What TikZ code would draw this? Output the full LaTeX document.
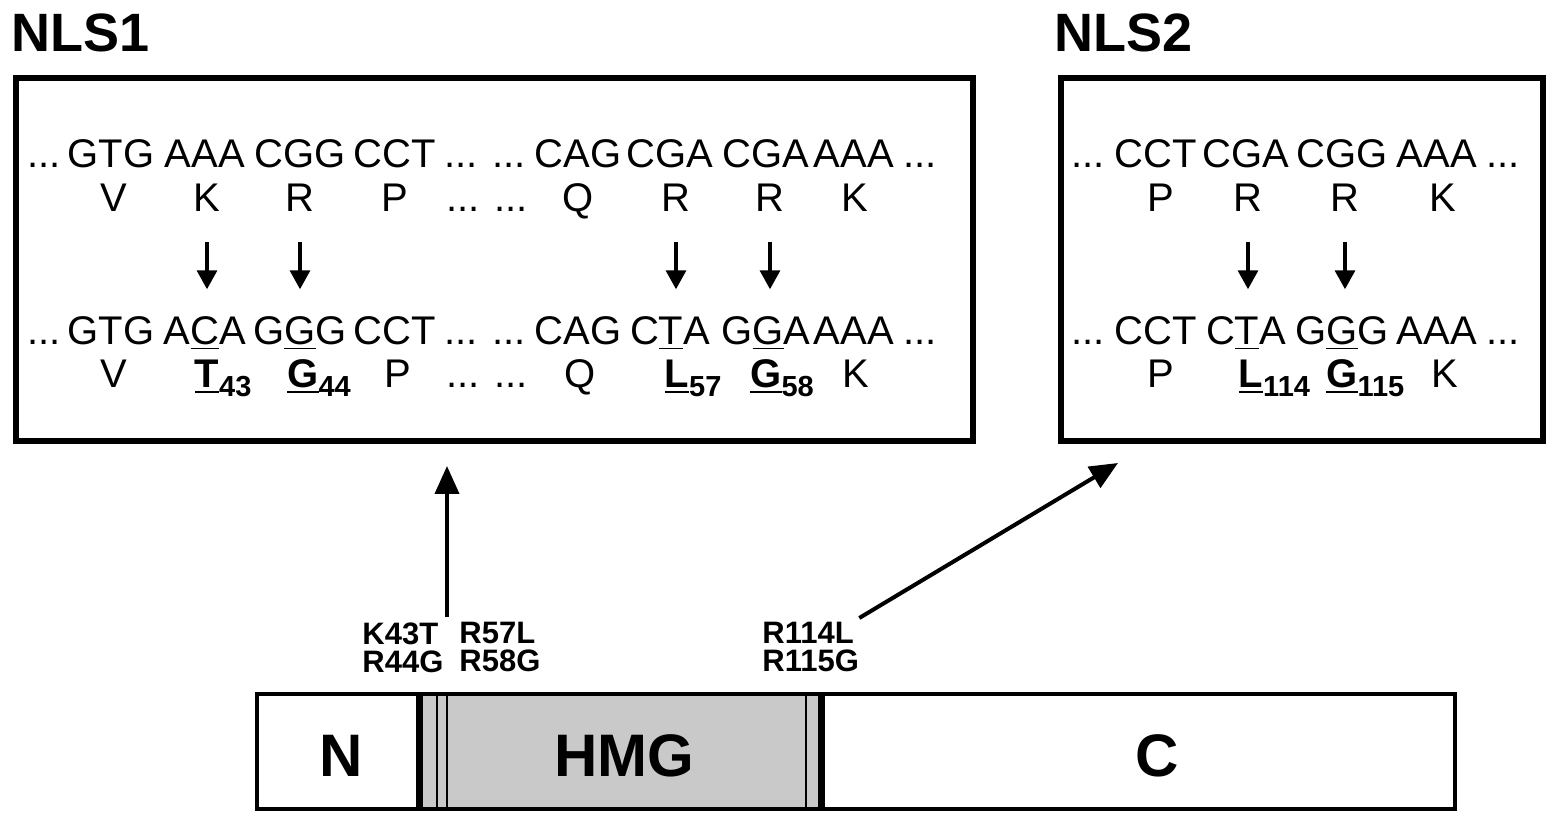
\documentclass[tikz,border=0pt]{standalone}
\usepackage{fontspec}
\setmainfont{Liberation Sans}
\usetikzlibrary{arrows.meta}
\definecolor{hmggray}{gray}{0.79}
\newcommand{\mutul}[1]{\setbox0\hbox{#1}\rlap{\rule[-2.2pt]{\wd0}{0.9pt}}\box0}
\newcommand{\mutaa}[2]{\setbox0\hbox{\bfseries #1}\rlap{\rule[-2.6pt]{\wd0}{1pt}}\box0\rlap{\raisebox{-4.3pt}{\fontsize{14.5}{14.5}\selectfont\bfseries #2}}}
\tikzset{
	seq/.style={anchor=base, inner sep=0pt, font=\fontsize{20}{24}\selectfont},
	title/.style={anchor=base west, inner sep=0pt, font=\fontsize{27}{30}\selectfont\bfseries},
	seqbox/.style={draw, line width=3pt, minimum height=181.5pt, inner sep=0pt},
	mutarrow/.style={-{Triangle[length=9.5pt,width=10pt]}, line width=1.7pt, shorten <=15pt, shorten >=13.7pt},
	bigarrow/.style={-{Triangle[length=14pt,width=12pt]}, line width=2pt},
	sitelabel/.style={anchor=north west, align=left, inner sep=0pt, font=\fontsize{15.5}{14}\selectfont\bfseries},
	domlabel/.style={anchor=base, inner sep=0pt, font=\fontsize{30}{34}\selectfont\bfseries},
	barline/.style={line width=2pt},
	hmgedge/.style={line width=3.5pt},
	hmgline/.style={line width=0.75pt}
}
\begin{document}
\begin{tikzpicture}[x=0.5pt, y=-0.5pt]
			\useasboundingbox (0,0) rectangle (1559,823);
			%%%%% BOXES %%%%%
			\node[title] (t1) at (11,52) {NLS1};
			\node[title] (t2) at (1054,52) {NLS2};
			\node[seqbox, minimum width=478.5pt] (nls1) at (494.5,259.5) {};
			\node[seqbox, minimum width=241pt] (nls2) at (1302,259.5) {};
			
			%%%%% NLS1 WILD TYPE %%%%%
			\node[seq] (w1c1) at (44,168) {...};
			\node[seq] (w1c2) at (111,168) {GTG};
			\node[seq] (w1c3) at (205,168) {AAA};
			\node[seq] (w1c4) at (300,168) {CGG};
			\node[seq] (w1c5) at (395,168) {CCT};
			\node[seq] (w1c6) at (485,168) {... ...};
			\node[seq] (w1c7) at (578,168) {CAG};
			\node[seq] (w1c8) at (670,168) {CGA};
			\node[seq] (w1c9) at (766,168) {CGA};
			\node[seq] (w1c10) at (854,168) {AAA};
			\node[seq] (w1c11) at (920,168) {...};
			\node[seq] (w1a1) at (114,212) {V};
			\node[seq] (w1a2) at (207,212) {K};
			\node[seq] (w1a3) at (300,212) {R};
			\node[seq] (w1a4) at (395,212) {P};
			\node[seq] (w1a5) at (487,212) {... ...};
			\node[seq] (w1a6) at (578,212) {Q};
			\node[seq] (w1a7) at (676,212) {R};
			\node[seq] (w1a8) at (770,212) {R};
			\node[seq] (w1a9) at (855,212) {K};
			
			%%%%% NLS1 MUTANT %%%%%
			\node[seq] (m1c1) at (44,345) {...};
			\node[seq] (m1c2) at (111,345) {GTG};
			\node[seq] (m1c3) at (205,345) {A\mutul{C}A};
			\node[seq] (m1c4) at (300,345) {G\mutul{G}G};
			\node[seq] (m1c5) at (395,345) {CCT};
			\node[seq] (m1c6) at (485,345) {... ...};
			\node[seq] (m1c7) at (578,345) {CAG};
			\node[seq] (m1c8) at (670,345) {C\mutul{T}A};
			\node[seq] (m1c9) at (766,345) {G\mutul{G}A};
			\node[seq] (m1c10) at (854,345) {AAA};
			\node[seq] (m1c11) at (920,345) {...};
			\node[seq] (m1a1) at (114,388) {V};
			\node[seq] (m1a2) at (207,388) {\mutaa{T}{43}};
			\node[seq] (m1a3) at (303,388) {\mutaa{G}{44}};
			\node[seq] (m1a4) at (398,388) {P};
			\node[seq] (m1a5) at (487,388) {... ...};
			\node[seq] (m1a6) at (580,388) {Q};
			\node[seq] (m1a7) at (677,388) {\mutaa{L}{57}};
			\node[seq] (m1a8) at (766,388) {\mutaa{G}{58}};
			\node[seq] (m1a9) at (856,388) {K};
			
			\draw[mutarrow] (w1a2.south) -- (w1a2.south |- m1c3.north);
			\draw[mutarrow] (w1a3.south) -- (w1a3.south |- m1c4.north);
			\draw[mutarrow] (w1a7.south) -- (w1a7.south |- m1c8.north);
			\draw[mutarrow] (w1a8.south) -- (w1a8.south |- m1c9.north);
			
			%%%%% NLS2 %%%%%
			\node[seq] (w2c1) at (1088,168) {...};
			\node[seq] (w2c2) at (1156,168) {CCT};
			\node[seq] (w2c3) at (1246,168) {CGA};
			\node[seq] (w2c4) at (1342,168) {CGG};
			\node[seq] (w2c5) at (1437,168) {AAA};
			\node[seq] (w2c6) at (1503,168) {...};
			\node[seq] (w2a1) at (1161,212) {P};
			\node[seq] (w2a2) at (1248,212) {R};
			\node[seq] (w2a3) at (1345,212) {R};
			\node[seq] (w2a4) at (1443,212) {K};
			
			\node[seq] (m2c1) at (1088,345) {...};
			\node[seq] (m2c2) at (1156,345) {CCT};
			\node[seq] (m2c3) at (1246,345) {C\mutul{T}A};
			\node[seq] (m2c4) at (1342,345) {G\mutul{G}G};
			\node[seq] (m2c5) at (1437,345) {AAA};
			\node[seq] (m2c6) at (1503,345) {...};
			\node[seq] (m2a1) at (1161,388) {P};
			\node[seq] (m2a2) at (1251,388) {\mutaa{L}{114}};
			\node[seq] (m2a3) at (1342,388) {\mutaa{G}{115}};
			\node[seq] (m2a4) at (1445,388) {K};
			
			\draw[mutarrow] (w2a2.south) -- (w2a2.south |- m2c3.north);
			\draw[mutarrow] (w2a3.south) -- (w2a3.south |- m2c4.north);
			
			%%%%% PROTEIN BAR %%%%%
			\fill[hmggray] (419,694) rectangle (821,809);
			\draw[hmgline] (437,694) -- (437,809);
			\draw[hmgline] (447,694) -- (447,809);
			\draw[hmgline] (806,694) -- (806,809);
			\draw[hmgedge] (419,694) -- (419,809);
			\draw[hmgedge] (821,694) -- (821,809);
			\draw[barline] (257,694) rectangle (1455,809);
			\node[domlabel] (nterm) at (341,776) {N};
			\node[domlabel] (hmg) at (624,776) {HMG};
			\node[domlabel] (cterm) at (1157,776) {C};
			
			%%%%% SITES %%%%%
			\node[sitelabel] (lbla) at (362,622) {K43T\\R44G};
			\node[sitelabel] (lblb) at (459,622) {R57L\\R58G};
			\node[sitelabel] (lblc) at (762,622) {R114L\\R115G};
			\coordinate (nls1tail) at (447,617);
			\coordinate (nls2tip) at (1118,463);
			\draw[bigarrow, shorten >=11pt] (nls1tail) -- (nls1tail |- nls1.south);
			\draw[bigarrow] ([yshift=2pt]lblc.north east) -- (nls2tip);
\end{tikzpicture}
\end{document}
